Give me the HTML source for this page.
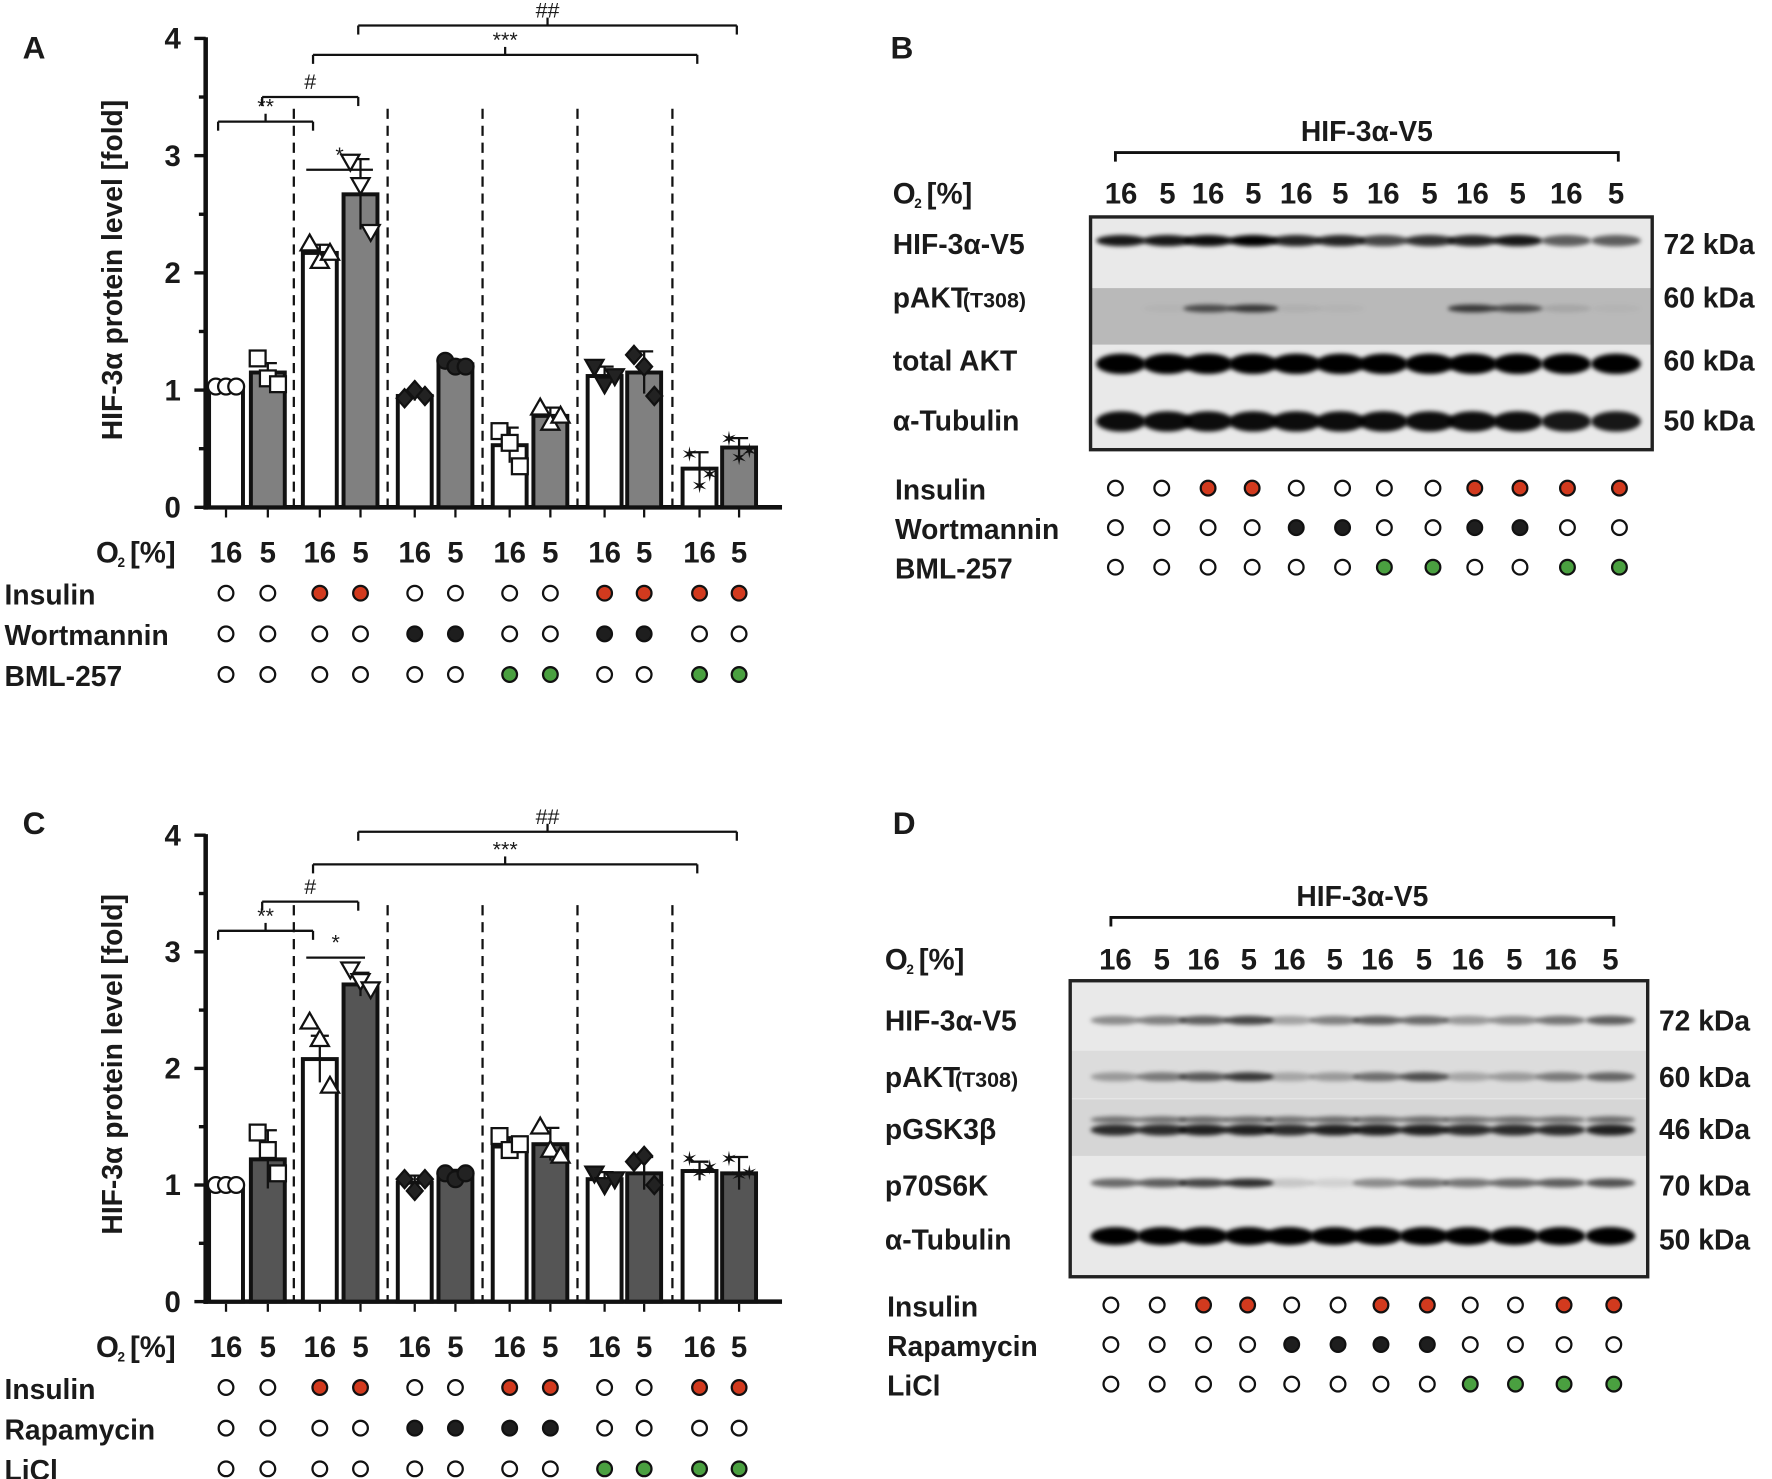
<!DOCTYPE html>
<html><head><meta charset="utf-8"><style>
html,body{margin:0;padding:0;background:#fff;}
svg{display:block;font-family:"Liberation Sans",Arial,sans-serif;}
</style></head><body>
<svg id="fig" width="1772" height="1479" viewBox="0 0 1568 1309" preserveAspectRatio="none">
<defs><filter id="blur" x="-20%" y="-100%" width="140%" height="300%"><feGaussianBlur stdDeviation="2"/></filter></defs>
</svg>
<script>
// ---------- data ----------
const barCats = ["16","5","16","5","16","5","16","5","16","5","16","5"];
const valuesA = [1.03,1.15,2.17,2.67,0.95,1.22,0.53,0.78,1.12,1.15,0.33,0.51];
const errA = [0.01,0.08,0.07,0.3,0.04,0.04,0.15,0.07,0.08,0.18,0.14,0.08];
const pointsA = [[1.03,1.03,1.03],[1.27,1.1,1.05],[2.25,2.1,2.17],[2.95,2.75,2.35],[0.93,1.0,0.95],[1.25,1.2,1.2],[0.65,0.55,0.35],[0.85,0.72,0.78],[1.2,1.05,1.12],[1.3,1.2,0.95],[0.45,0.18,0.28],[0.58,0.42,0.48]];
const valuesC = [1.0,1.22,2.08,2.72,1.02,1.08,1.33,1.35,1.05,1.1,1.12,1.1];
const errC = [0.01,0.25,0.2,0.1,0.06,0.05,0.08,0.14,0.06,0.14,0.08,0.14];
const pointsC = [[1,1,1],[1.45,1.3,1.1],[2.4,2.25,1.85],[2.85,2.75,2.68],[1.05,0.95,1.05],[1.1,1.05,1.1],[1.42,1.3,1.35],[1.5,1.3,1.25],[1.1,1.0,1.05],[1.2,1.25,1.0],[1.22,1.1,1.15],[1.22,1.08,1.1]];
const yTicks = [0,1,2,3,4];
const insulinA = [0,0,1,1,0,0,0,0,1,1,1,1];
const wortA = [0,0,0,0,1,1,0,0,1,1,0,0];
const bmlA = [0,0,0,0,0,0,1,1,0,0,1,1];
const insulinC = [0,0,1,1,0,0,1,1,0,0,1,1];
const rapaC = [0,0,0,0,1,1,1,1,0,0,0,0];
const liclC = [0,0,0,0,0,0,0,0,1,1,1,1];
const blotB_hif = [0.9,0.9,0.95,1,0.85,0.85,0.7,0.8,0.85,0.9,0.6,0.6];
const blotB_pakt = [0,0.03,0.6,0.7,0.05,0.03,0,0,0.7,0.6,0.1,0.03];
const blotB_akt = [1,1,1,1,1,1,1,1,1,1,1,1];
const blotB_tub = [0.95,0.95,0.95,0.95,0.95,0.95,0.95,0.95,0.95,0.95,0.9,0.9];
const blotD_hif = [0.4,0.45,0.6,0.7,0.3,0.45,0.6,0.55,0.35,0.4,0.5,0.6];
const blotD_pakt = [0.3,0.45,0.6,0.75,0.25,0.3,0.5,0.65,0.25,0.3,0.45,0.55];
const blotD_pgsk = [0.8,0.8,0.85,0.85,0.8,0.85,0.85,0.85,0.8,0.8,0.8,0.85];
const blotD_p70 = [0.55,0.6,0.7,0.8,0.15,0.1,0.4,0.5,0.5,0.55,0.6,0.65];
const blotD_tub = [1,1,1,1,1,1,1,1,1,1,1,1];

// ---------- helpers ----------
const NS="http://www.w3.org/2000/svg";
const svg=document.getElementById('fig');
function el(tag,attrs,parent,text){const e=document.createElementNS(NS,tag);for(const k in attrs)e.setAttribute(k,attrs[k]);if(text!==undefined)e.textContent=text;(parent||svg).appendChild(e);return e;}
function txt(x,y,s,size,name,anchor,parent,extra){const t=el('text',Object.assign({x:x,y:y,'font-size':size,'font-weight':'bold','text-anchor':anchor||'start',fill:'#1a1a1a'},extra||{}),parent,s);


return t;}
const barX=[200,237,283,319,367,403,451,487,535,570,619,654];
const markerTypes=['circle','square','tri','tridown','diamondF','circleF','square','tri','tridownF','diamondF','star','star'];

function marker(g,type,cx,cy){const s=7;let e;
 const fill=type.endsWith('F')?'#222':'#fff';const t=type.replace('F','');
 if(t==='circle')e=el('circle',{cx:cx,cy:cy,r:s,fill:fill,stroke:'#111','stroke-width':2},g);
 else if(t==='square')e=el('rect',{x:cx-s,y:cy-s,width:2*s,height:2*s,fill:fill,stroke:'#111','stroke-width':2},g);
 else if(t==='tri')e=el('polygon',{points:`${cx},${cy-s-1} ${cx-s-1},${cy+s-1} ${cx+s+1},${cy+s-1}`,fill:fill,stroke:'#111','stroke-width':2},g);
 else if(t==='tridown')e=el('polygon',{points:`${cx},${cy+s+1} ${cx-s-1},${cy-s+1} ${cx+s+1},${cy-s+1}`,fill:fill,stroke:'#111','stroke-width':2},g);
 else if(t==='diamond')e=el('polygon',{points:`${cx},${cy-s-1} ${cx+s},${cy} ${cx},${cy+s+1} ${cx-s},${cy}`,fill:fill,stroke:'#111','stroke-width':2},g);
 else {e=el('text',{x:cx,y:cy+6,'font-size':18,'text-anchor':'middle',fill:'#111'},g,'\u2736');}
 
 
}

function barPanel(o){
 const g=el('g',{});
 
 
 const y0=o.y0,unit=o.unit;const Y=v=>y0-v*unit;
 txt(20,o.letterY,o.letter,28,'panel-label-'+o.letter.toLowerCase(),'start',g);
 const ya=el('line',{x1:182,y1:Y(4)-1,x2:182,y2:y0+2,stroke:'#111','stroke-width':4},g);
 
 
 const xa=el('line',{x1:180,y1:y0,x2:692,y2:y0,stroke:'#111','stroke-width':4},g);
 
 
 yTicks.forEach(v=>{el('line',{x1:172,y1:Y(v),x2:182,y2:Y(v),stroke:'#111','stroke-width':3},g);
  el('line',{x1:176,y1:Y(v+0.5),x2:182,y2:Y(v+0.5),stroke:'#111','stroke-width':3,display:v<4?'':'none'},g);
  txt(160,Y(v)+9,String(v),26,'y-tick-label','end',g);});
 txt(0,0,'HIF-3\u03b1 protein level [fold]',25,'y-axis-title','middle',g,{transform:`translate(108,${y0-210}) rotate(-90)`});
 [260,343,427,511,595].forEach(x=>{const d=el('line',{x1:x,y1:Y(3.4),x2:x,y2:y0,stroke:'#111','stroke-width':2,'stroke-dasharray':'9,6'},g);
  
  });
 o.values.forEach((v,i)=>{const x=barX[i];
  const b=el('rect',{x:x-15,y:Y(v),width:30,height:v*unit,fill:i%2?o.grey:'#fff',stroke:'#111','stroke-width':3.5},g);
  
  
  el('line',{x1:x,y1:y0+2,x2:x,y2:y0+9,stroke:'#111','stroke-width':2},g);
  const e=o.err[i];
  el('line',{x1:x,y1:Y(v+e),x2:x,y2:Y(v-e),stroke:'#111','stroke-width':2},g);
  el('line',{x1:x-8,y1:Y(v+e),x2:x+8,y2:Y(v+e),stroke:'#111','stroke-width':2},g);
  o.points[i].forEach((p,j)=>marker(g,markerTypes[i],x-9+j*9,Y(p)));
 });
 const br=(x1,x2,v,label,ends,mid)=>{const y=Y(v);
  el('line',{x1:x1,y1:y,x2:x2,y2:y,stroke:'#111','stroke-width':2},g);
  if(ends){el('line',{x1:x1,y1:y,x2:x1,y2:y+8,stroke:'#111','stroke-width':2},g);el('line',{x1:x2,y1:y,x2:x2,y2:y+8,stroke:'#111','stroke-width':2},g);}
  if(mid)el('line',{x1:(x1+x2)/2,y1:y,x2:(x1+x2)/2,y2:y-7,stroke:'#111','stroke-width':2},g);
  txt((x1+x2)/2,y-7,label,19,'significance-label','middle',g,{'font-weight':'normal'});};
 o.brackets.forEach(b=>br(...b));
 const oy=y0+49;
 txt(85,oy,'O',26,'o2-label','start',g);
 txt(104,oy+4,'2',12,'o2-subscript','start',g);
 txt(115,oy,'[%]',26,'o2-unit','start',g);
 barCats.forEach((c,i)=>txt(barX[i],oy,c,26,'o2-value','middle',g));
 o.rows.forEach((r,k)=>{const ry=y0+76+k*36;
  txt(4,ry+10,r.label,25,'treatment-label','start',g);
  r.vals.forEach((v,i)=>{const c=el('circle',{cx:barX[i],cy:ry,r:6.5,fill:v?r.color:'#fff',stroke:'#111','stroke-width':2},g);
   
   });
 });
}
barPanel({name:'panel-a-chart',letter:'A',letterY:52,y0:449,unit:103.75,values:valuesA,err:errA,points:pointsA,grey:'#808080',
 brackets:[[193,277,3.29,'**',true,true],[232,317,3.5,'#',true,false],[271,330,2.88,'*',false,false],[277,617,3.86,'***',true,true],[317,652,4.11,'##',true,true]],
 rows:[{label:'Insulin',vals:insulinA,color:'#d23a1e'},{label:'Wortmannin',vals:wortA,color:'#1e1e1e'},{label:'BML-257',vals:bmlA,color:'#4aa040'}]});
barPanel({name:'panel-c-chart',letter:'C',letterY:738,y0:1152,unit:103.2,values:valuesC,err:errC,points:pointsC,grey:'#555',
 brackets:[[193,277,3.18,'**',true,true],[232,317,3.43,'#',true,false],[271,323,2.95,'*',false,false],[277,617,3.75,'***',true,true],[317,652,4.03,'##',true,true]],
 rows:[{label:'Insulin',vals:insulinC,color:'#d23a1e'},{label:'Rapamycin',vals:rapaC,color:'#1e1e1e'},{label:'LiCl',vals:liclC,color:'#4aa040'}]});

// ---------- blots ----------
function blotPanel(o){
 const g=el('g',{});
 
 
 txt(o.letterX,o.letterY,o.letter,28,'panel-label-'+o.letter.toLowerCase(),'start',g);
 txt((o.brX1+o.brX2)/2,o.brY-10,'HIF-3\u03b1-V5',25,'construct-label','middle',g);
 el('path',{d:`M${o.brX1},${o.brY+8} V${o.brY} H${o.brX2} V${o.brY+8}`,fill:'none',stroke:'#111','stroke-width':2.5},g);
 txt(o.labX,o.o2Y,'O',26,'o2-label','start',g);
 txt(o.labX+19,o.o2Y+4,'2',12,'o2-subscript','start',g);
 txt(o.labX+30,o.o2Y,'[%]',26,'o2-unit','start',g);
 o.lanes.forEach((x,i)=>txt(x,o.o2Y,barCats[i],26,'o2-value','middle',g));
 el('rect',{x:o.box[0],y:o.box[1],width:o.box[2],height:o.box[3],fill:'#e9e9e9'},g);
 o.rows.forEach(r=>{
  if(r.bg)el('rect',{x:o.box[0],y:r.bg[0],width:o.box[2],height:r.bg[1],fill:r.bgc},g);
  r.vals.forEach((v,i)=>{const b=el('ellipse',{cx:o.lanes[i],cy:r.y,rx:22,ry:r.h,fill:'#000','fill-opacity':v,filter:'url(#blur)'},g);
   
   
   if(r.dbl){const b2=el('ellipse',{cx:o.lanes[i],cy:r.y-9,rx:22,ry:3,fill:'#000','fill-opacity':v*0.6,filter:'url(#blur)'},g);
    
    }
  });
  txt(o.labX,r.ly,r.label,25,'blot-row-label','start',g);
  if(r.sub)txt(o.labX+r.subX,r.ly,r.sub,19,'blot-row-sublabel','start',g);
  txt(o.kdX,r.ly,r.kda,25,'kda-label','start',g);
 });
 const bx=el('rect',{x:o.box[0],y:o.box[1],width:o.box[2],height:o.box[3],fill:'none',stroke:'#222','stroke-width':3},g);
 
 
 o.treat.forEach((r,k)=>{const ry=o.treatY+k*35;
  txt(o.labX+2,ry+10,r.label,25,'treatment-label','start',g);
  r.vals.forEach((v,i)=>{const c=el('circle',{cx:o.dots[i],cy:ry,r:6.5,fill:v?r.color:'#fff',stroke:'#111','stroke-width':2},g);
   
   });
 });
}
blotPanel({name:'panel-b-blot',letter:'B',letterX:788,letterY:52,brX1:987,brX2:1432,brY:135,labX:790,o2Y:180,kdX:1472,
 lanes:[992,1033,1069,1109,1147,1186,1224,1265,1303,1343,1386,1430],
 dots:[987,1028,1069,1108,1147,1188,1225,1268,1305,1345,1387,1433],
 box:[965,192,497,206],
 rows:[{label:'HIF-3\u03b1-V5',y:213,h:5,vals:blotB_hif,ly:225,kda:'72 kDa'},
  {label:'pAKT',sub:'(T308)',subX:62,y:273,h:3.5,vals:blotB_pakt,ly:272,kda:'60 kDa',bg:[255,50],bgc:'#b9b9b9'},
  {label:'total AKT',y:322,h:9,vals:blotB_akt,ly:328,kda:'60 kDa'},
  {label:'\u03b1-Tubulin',y:373,h:9,vals:blotB_tub,ly:381,kda:'50 kDa'}],
 treatY:432,
 treat:[{label:'Insulin',vals:insulinA,color:'#d23a1e'},{label:'Wortmannin',vals:wortA,color:'#1e1e1e'},{label:'BML-257',vals:bmlA,color:'#4aa040'}]});
blotPanel({name:'panel-d-blot',letter:'D',letterX:790,letterY:738,brX1:983,brX2:1428,brY:812,labX:783,o2Y:858,kdX:1468,
 lanes:[987,1028,1065,1105,1141,1181,1219,1260,1299,1340,1381,1425],
 dots:[983,1024,1065,1104,1143,1184,1222,1263,1301,1341,1384,1428],
 box:[947,868,511,262],
 rows:[{label:'HIF-3\u03b1-V5',y:903,h:4,vals:blotD_hif,ly:912,kda:'72 kDa'},
  {label:'pAKT',sub:'(T308)',subX:62,y:953,h:4,vals:blotD_pakt,ly:962,kda:'60 kDa',bg:[930,42],bgc:'#dcdcdc'},
  {label:'pGSK3\u03b2',y:1000,h:5,vals:blotD_pgsk,ly:1008,kda:'46 kDa',dbl:true,bg:[973,50],bgc:'#d6d6d6'},
  {label:'p70S6K',y:1047,h:4,vals:blotD_p70,ly:1058,kda:'70 kDa'},
  {label:'\u03b1-Tubulin',y:1094,h:8,vals:blotD_tub,ly:1106,kda:'50 kDa'}],
 treatY:1155,
 treat:[{label:'Insulin',vals:insulinC,color:'#d23a1e'},{label:'Rapamycin',vals:rapaC,color:'#1e1e1e'},{label:'LiCl',vals:liclC,color:'#4aa040'}]});
</script>
</body></html>
